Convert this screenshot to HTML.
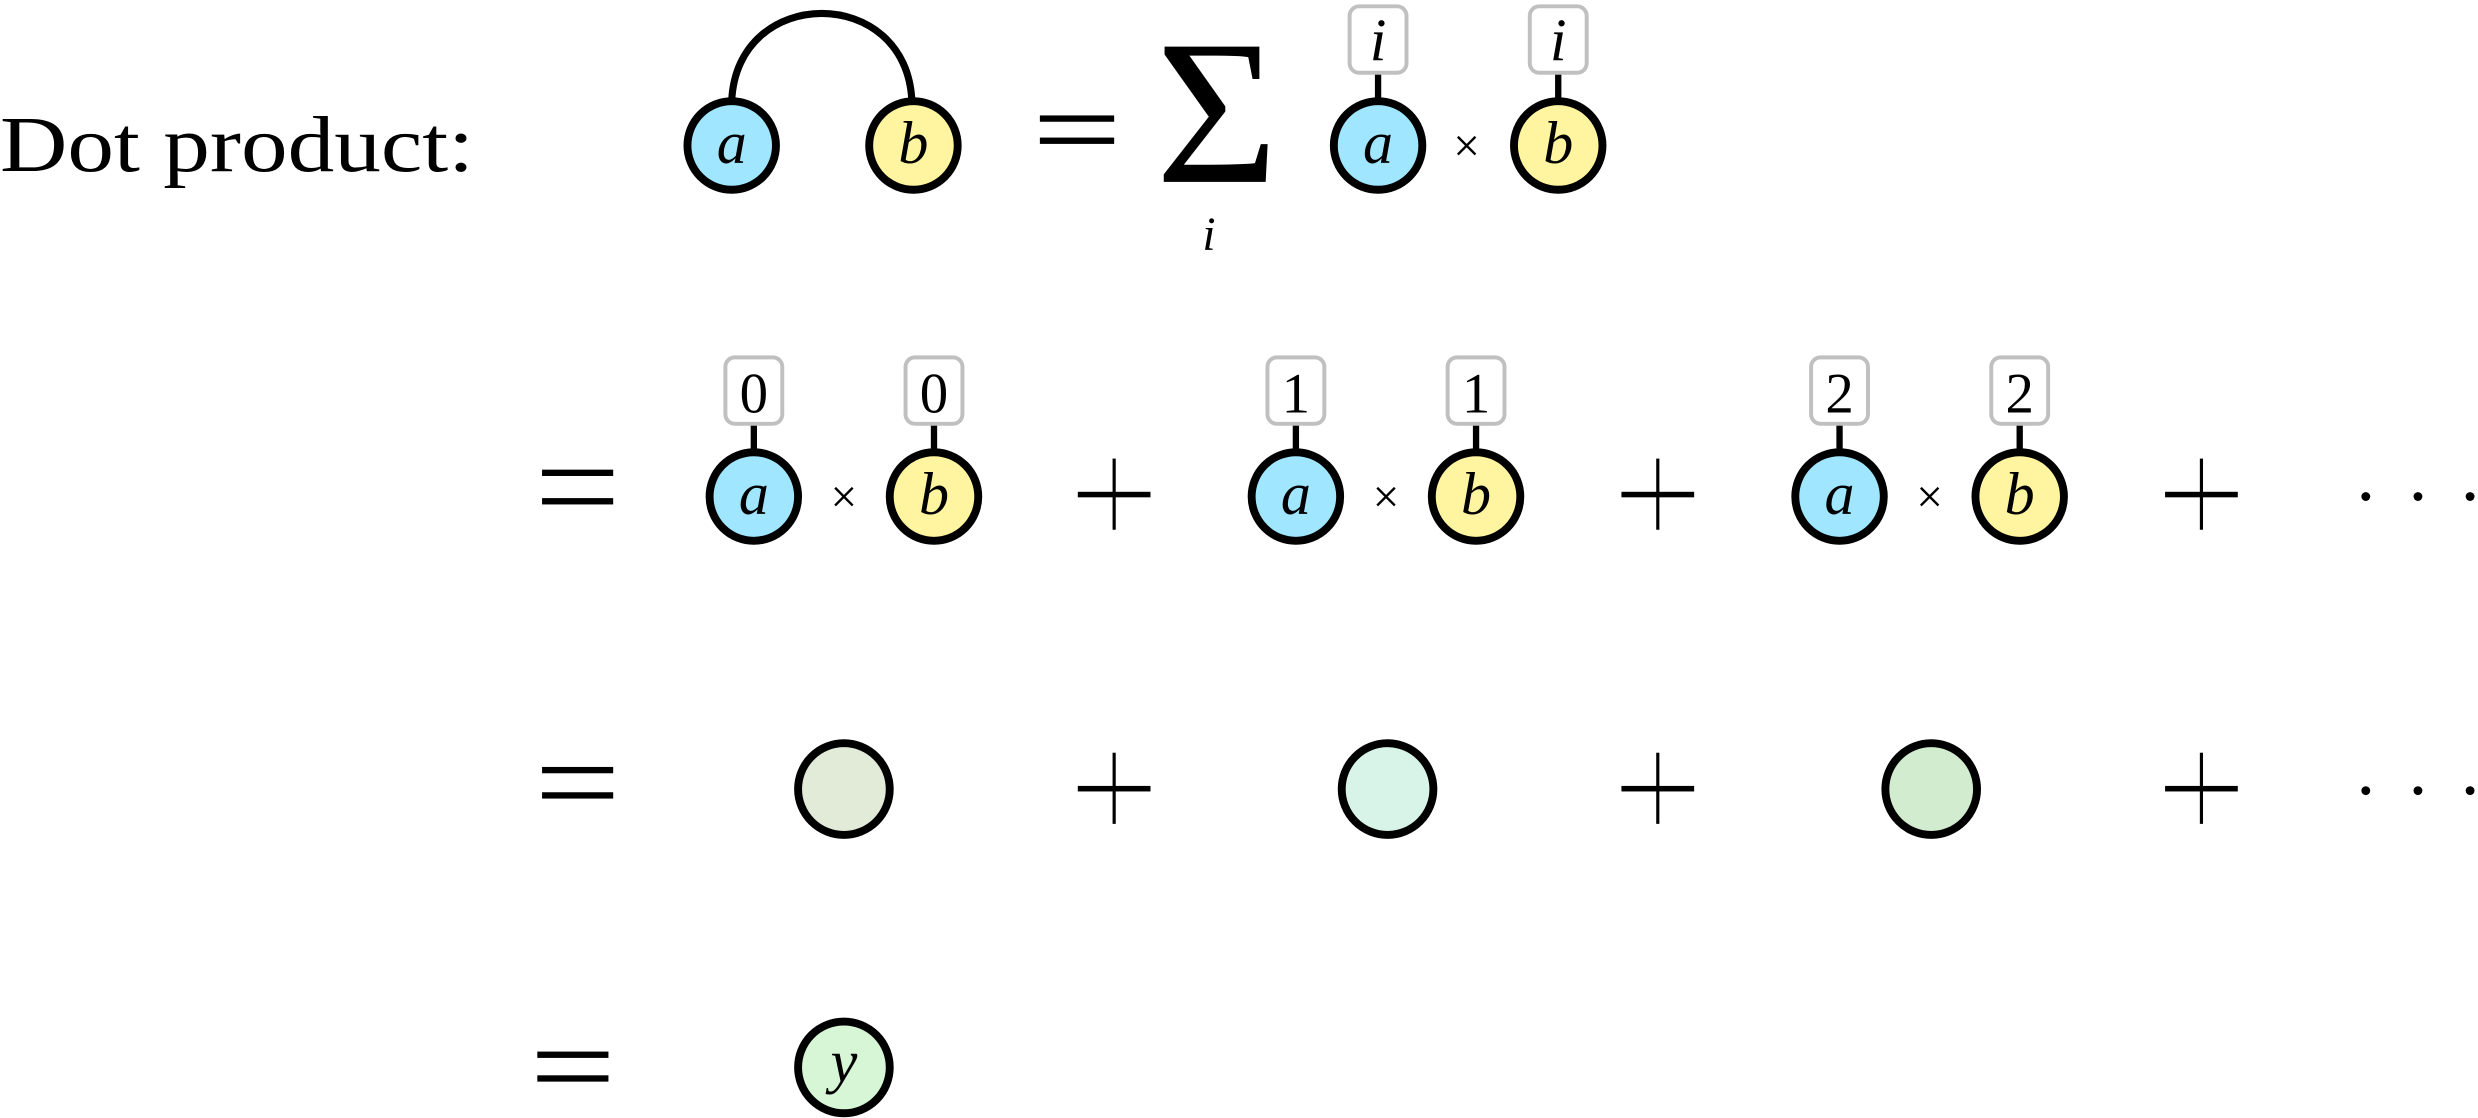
<!DOCTYPE html>
<html><head><meta charset="utf-8"><style>
html,body{margin:0;padding:0;background:#fff;}
svg{display:block;font-family:"Liberation Serif","DejaVu Serif",serif;}
svg text{font-family:"Liberation Serif","DejaVu Serif",serif;}
.v{font-style:italic;font-size:38px;text-anchor:middle;}
.n{font-size:36px;text-anchor:middle;}
</style></head><body>
<svg width="2478" height="1118" viewBox="0 0 1568 707" preserveAspectRatio="none" xmlns="http://www.w3.org/2000/svg" font-family="Liberation Serif, serif">
<defs>
<g id="ca"><circle r="28" fill="#a0e6ff" stroke="#000" stroke-width="5"/><text class="v" y="11">a</text></g>
<g id="cb"><circle r="28" fill="#fff5a0" stroke="#000" stroke-width="5"/><text class="v" y="11">b</text></g>
</defs>
<text x="0" y="108" font-size="50" textLength="300" lengthAdjust="spacingAndGlyphs">Dot product:</text>
<!-- top row -->
<path d="M463 64 C466 -10 574 -10 577 64" fill="none" stroke="#000" stroke-width="4.5"/>
<use href="#ca" x="463" y="92"/><use href="#cb" x="578" y="92"/>
<rect x="658" y="73" width="47" height="4" fill="#000"/><rect x="658" y="87" width="47" height="4" fill="#000"/>
<text x="770" y="115" font-size="92" text-anchor="middle" transform="translate(770 115) scale(1.45 1.42) translate(-770 -115)">Σ</text>
<text class="v" x="765" y="158" style="font-size:30px">i</text>
<g>
<line x1="872" y1="46" x2="872" y2="64" stroke="#000" stroke-width="4"/>
<rect x="854" y="4" width="36" height="42" rx="6" fill="#fff" stroke="#c0c0c0" stroke-width="2.5"/>
<text class="v" x="872" y="38">i</text>
<use href="#ca" x="872" y="92"/>
<text x="928" y="102" font-size="30" text-anchor="middle">×</text>
<line x1="986" y1="46" x2="986" y2="64" stroke="#000" stroke-width="4"/>
<rect x="968" y="4" width="36" height="42" rx="6" fill="#fff" stroke="#c0c0c0" stroke-width="2.5"/>
<text class="v" x="986" y="38">i</text>
<use href="#cb" x="986" y="92"/>
</g>
<!-- row 2 -->
<rect x="343" y="297" width="45" height="4" fill="#000"/><rect x="343" y="315" width="45" height="4" fill="#000"/>
<g id="pair0">
<line x1="477" y1="268" x2="477" y2="286" stroke="#000" stroke-width="4"/>
<rect x="459" y="226" width="36" height="42" rx="6" fill="#fff" stroke="#c0c0c0" stroke-width="2.5"/>
<use href="#ca" x="477" y="314"/>
<text x="534" y="324" font-size="30" text-anchor="middle">×</text>
<line x1="591" y1="268" x2="591" y2="286" stroke="#000" stroke-width="4"/>
<rect x="573" y="226" width="36" height="42" rx="6" fill="#fff" stroke="#c0c0c0" stroke-width="2.5"/>
<use href="#cb" x="591" y="314"/>
</g>
<text class="n" x="477" y="261">0</text><text class="n" x="591" y="261">0</text>
<use href="#pair0" x="343"/><text class="n" x="820" y="261">1</text><text class="n" x="934" y="261">1</text>
<use href="#pair0" x="687"/><text class="n" x="1164" y="261">2</text><text class="n" x="1278" y="261">2</text>
<g id="plus"><rect x="682" y="311" width="46" height="3.5" fill="#000"/><rect x="704" y="290" width="2" height="45" fill="#000"/></g>
<use href="#plus" x="344"/><use href="#plus" x="688"/>
<g id="dots"><circle cx="1497" cy="314" r="2.8"/><circle cx="1530" cy="314" r="2.8"/><circle cx="1563" cy="314" r="2.8"/></g>
<!-- row 3 -->
<rect x="343" y="485" width="45" height="4" fill="#000"/><rect x="343" y="501" width="45" height="4" fill="#000"/>
<circle cx="534" cy="499" r="29" fill="#e2ead8" stroke="#000" stroke-width="5"/>
<circle cx="878" cy="499" r="29" fill="#d8f4e8" stroke="#000" stroke-width="5"/>
<circle cx="1222" cy="499" r="29" fill="#d2ecd0" stroke="#000" stroke-width="5"/>
<use href="#plus" y="186"/><use href="#plus" x="344" y="186"/><use href="#plus" x="688" y="186"/>
<use href="#dots" y="186"/>
<!-- row 4 -->
<rect x="340" y="665" width="45" height="4" fill="#000"/><rect x="340" y="680" width="45" height="4" fill="#000"/>
<circle cx="534" cy="675" r="29" fill="#d6f6d6" stroke="#000" stroke-width="5"/>
<text class="v" x="534" y="684">y</text>
</svg>
</body></html>
